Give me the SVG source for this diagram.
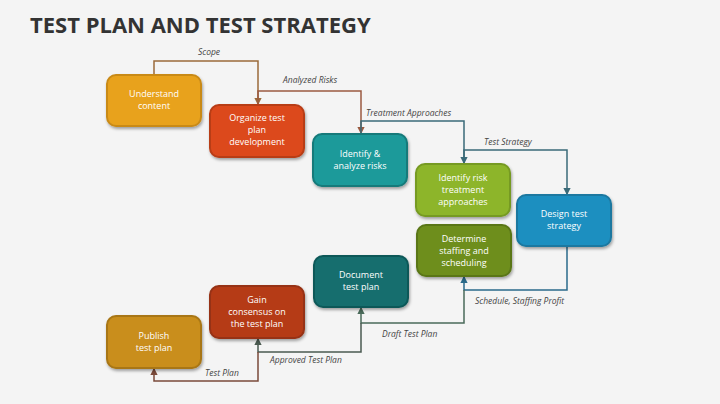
<svg xmlns="http://www.w3.org/2000/svg" width="720" height="404" viewBox="0 0 720 404">
<defs>
<marker id="ah" viewBox="0 0 6 6" refX="5" refY="3" markerWidth="5" markerHeight="5" orient="auto"><path d="M0,0L6,3L0,6z" fill="context-stroke"/></marker>
<filter id="sh" x="-10%" y="-10%" width="130%" height="130%"><feDropShadow dx="1" dy="2" stdDeviation="1.5" flood-opacity="0.35"/></filter>
</defs>
<style>
.n rect{filter:url(#sh);stroke-width:2}
.n text{font-family:"Open Sans","Liberation Sans",sans-serif;font-size:9px;fill:#fff;text-anchor:middle}
.c path{fill:none;stroke-width:1.5;marker-end:url(#ah)}
.l{font-family:"Open Sans","Liberation Sans",sans-serif;font-size:8.5px;font-style:italic;fill:#444}
</style>
<rect width="720" height="404" fill="#f4f4f4"/>
<text x="30" y="33" font-family="Open Sans,Liberation Sans,sans-serif" font-weight="bold" font-size="22" fill="#333">TEST PLAN AND TEST STRATEGY</text>
<g class="c">
<path d="M154,75V61H258V104" stroke="#9a6a3a"/>
<path d="M258,105V91H361V133" stroke="#9a5a40"/>
<path d="M361,134V121H464V163" stroke="#3a6a78"/>
<path d="M464,164V150H567V194" stroke="#3a6a78"/>
<path d="M567,246V290H464V277" stroke="#2a6a8a"/>
<path d="M464,290V323H361V308" stroke="#4a6a5a"/>
<path d="M361,323V352H258V339" stroke="#4a5a50"/>
<path d="M258,352V381H154V369" stroke="#7a4a3a"/>
</g>
<g>
<text class="l" x="198" y="55">Scope</text>
<text class="l" x="283" y="83">Analyzed Risks</text>
<text class="l" x="366" y="116">Treatment Approaches</text>
<text class="l" x="484" y="145">Test Strategy</text>
<text class="l" x="475" y="304">Schedule, Staffing Profit</text>
<text class="l" x="382" y="337">Draft Test Plan</text>
<text class="l" x="270" y="363">Approved Test Plan</text>
<text class="l" x="205" y="376">Test Plan</text>
</g>
<g id="n1" class="n"><rect x="107" y="75" width="94" height="51" rx="9" fill="#E8A21F" stroke="#c98a18"/><text x="154" y="97">Understand</text><text x="154" y="109">content</text></g>
<g id="n2" class="n"><rect x="210" y="105" width="94" height="52" rx="9" fill="#DC4A1C" stroke="#b83c16"/><text x="257" y="121">Organize test</text><text x="257" y="133">plan</text><text x="257" y="145">development</text></g>
<g id="n3" class="n"><rect x="313" y="134" width="94" height="52" rx="9" fill="#1A9A9A" stroke="#137a7a"/><text x="360" y="157">Identify &amp;</text><text x="360" y="169">analyze risks</text></g>
<g id="n4" class="n"><rect x="416" y="164" width="94" height="52" rx="9" fill="#8DB52A" stroke="#769a22"/><text x="463" y="181">Identify risk</text><text x="463" y="193">treatment</text><text x="463" y="205">approaches</text></g>
<g id="n5" class="n"><rect x="517" y="195" width="94" height="51" rx="9" fill="#1E8FC0" stroke="#1a78a0"/><text x="564" y="217">Design test</text><text x="564" y="229">strategy</text></g>
<g id="n6" class="n"><rect x="417" y="225" width="94" height="51" rx="9" fill="#6E8E1E" stroke="#5a7618"/><text x="464" y="242">Determine</text><text x="464" y="254">staffing and</text><text x="464" y="266">scheduling</text></g>
<g id="n7" class="n"><rect x="314" y="256" width="94" height="51" rx="9" fill="#136E6E" stroke="#0e5858"/><text x="361" y="278">Document</text><text x="361" y="290">test plan</text></g>
<g id="n8" class="n"><rect x="210" y="286" width="94" height="52" rx="9" fill="#B53A18" stroke="#963012"/><text x="257" y="303">Gain</text><text x="257" y="315">consensus on</text><text x="257" y="327">the test plan</text></g>
<g id="n9" class="n"><rect x="107" y="316" width="94" height="52" rx="9" fill="#C98E1A" stroke="#a87614"/><text x="154" y="339">Publish</text><text x="154" y="351">test plan</text></g>
</svg>
